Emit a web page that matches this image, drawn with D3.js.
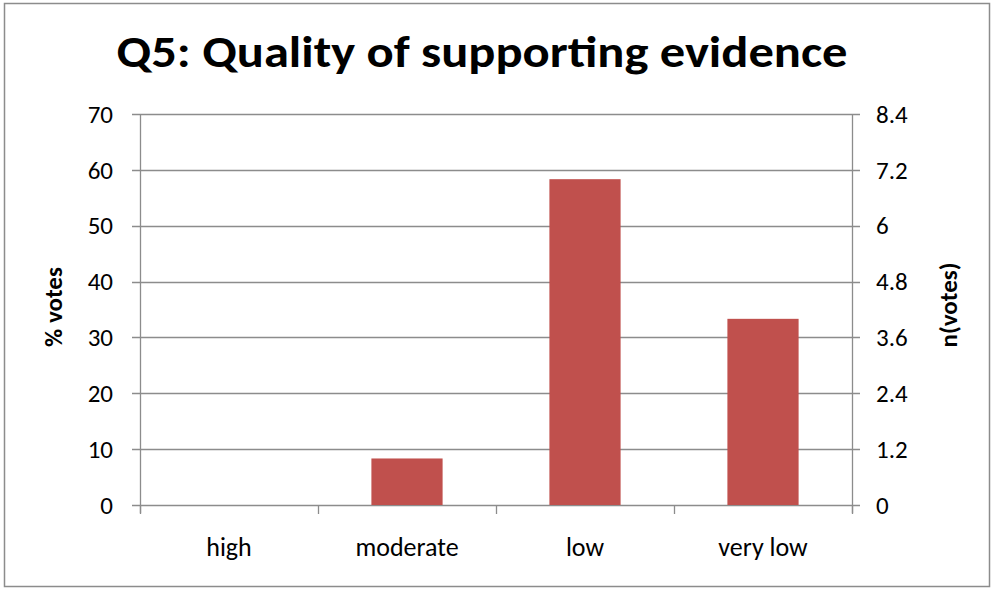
<!DOCTYPE html>
<html><head><meta charset="utf-8">
<script src="https://cdn.jsdelivr.net/npm/d3@7"></script>
<style>body{margin:0;background:#fff}svg{display:block}</style>
</head><body>
<svg id="c" width="994" height="591"></svg>
<script>
const categories = ["high", "moderate", "low", "very low"];
const percentVotes = [0, 8.33, 58.33, 33.33];
const leftTicks = [0, 10, 20, 30, 40, 50, 60, 70];
const rightTicks = [0, 1.2, 2.4, 3.6, 4.8, 6, 7.2, 8.4];
const titleText = "Q5: Quality of supporting evidence";

const svg = d3.select("#c");
const font = "Calibri, Carlito, Lato, 'Open Sans', sans-serif";
const m = {l:140, r:852, t:114, b:505};
const grid = "#8c8c8c";

svg.append("rect").attr("x",4.5).attr("y",3.5).attr("width",985).attr("height",583)
  .attr("fill","#fff").attr("stroke","#8c8c8c").attr("stroke-width",1.5);

const x = d3.scaleBand().domain(categories).range([m.l, m.r]).paddingInner(0.6).paddingOuter(0.3);
const xb = d3.scaleBand().domain(categories).range([m.l, m.r]);
const y = d3.scaleLinear().domain([0,70]).range([m.b, m.t]);
const y2 = d3.scaleLinear().domain([0,8.4]).range([m.b, m.t]);

// gridlines
svg.append("g").selectAll("line").data(leftTicks).join("line")
  .attr("x1",m.l-8).attr("x2",m.r+8).attr("y1",d=>Math.round(y(d))+0.5).attr("y2",d=>Math.round(y(d))+0.5)
  .attr("stroke",grid).attr("stroke-width",1.3);

// bars
svg.append("g").selectAll("rect").data(categories).join("rect")
  .attr("x",d=>x(d)).attr("width",x.bandwidth())
  .attr("y",(d,i)=>y(percentVotes[i])).attr("height",(d,i)=>y(0)-y(percentVotes[i]))
  .attr("fill","#C0504D");

// axis lines
svg.append("line").attr("x1",m.l+0.5).attr("x2",m.l+0.5).attr("y1",m.t).attr("y2",m.b+8).attr("stroke",grid).attr("stroke-width",1.3);
svg.append("line").attr("x1",m.r+0.5).attr("x2",m.r+0.5).attr("y1",m.t).attr("y2",m.b+8).attr("stroke",grid).attr("stroke-width",1.3);
// category ticks
const bounds = categories.map(c=>xb(c)).concat([m.r]);
svg.append("g").selectAll("line").data(bounds).join("line")
  .attr("x1",d=>Math.round(d)+0.5).attr("x2",d=>Math.round(d)+0.5).attr("y1",m.b).attr("y2",m.b+9)
  .attr("stroke",grid).attr("stroke-width",1.3);

// tick labels
svg.append("g").selectAll("text").data(leftTicks).join("text")
  .attr("x",m.l-27).attr("y",d=>y(d)).attr("dy","0.35em").attr("text-anchor","end")
  .attr("font-family",font).attr("font-size",25).attr("fill","#000").text(d=>d);
svg.append("g").selectAll("text").data(rightTicks).join("text")
  .attr("x",m.r+24).attr("y",d=>y2(d)).attr("dy","0.35em").attr("text-anchor","start")
  .attr("font-family",font).attr("font-size",25).attr("fill","#000").text(d=>d);
svg.append("g").selectAll("text").data(categories).join("text")
  .attr("x",d=>xb(d)+xb.bandwidth()/2).attr("y",556).attr("text-anchor","middle")
  .attr("font-family",font).attr("font-size",26).attr("fill","#000").text(d=>d);

// axis titles
svg.append("text").attr("transform","translate(53,307) rotate(-90)").attr("text-anchor","middle").attr("dy","0.35em")
  .attr("font-family",font).attr("font-size",25).attr("font-weight","bold").text("% votes");
svg.append("text").attr("transform","translate(948,305) rotate(-90)").attr("text-anchor","middle").attr("dy","0.35em")
  .attr("font-family",font).attr("font-size",25).attr("font-weight","bold").text("n(votes)");

// title
svg.append("text").attr("x",482).attr("y",67).attr("text-anchor","middle")
  .attr("font-family",font).attr("font-size",44).attr("font-weight","bold")
  .attr("textLength",731).attr("lengthAdjust","spacingAndGlyphs").text(titleText);
</script>
</body></html>
